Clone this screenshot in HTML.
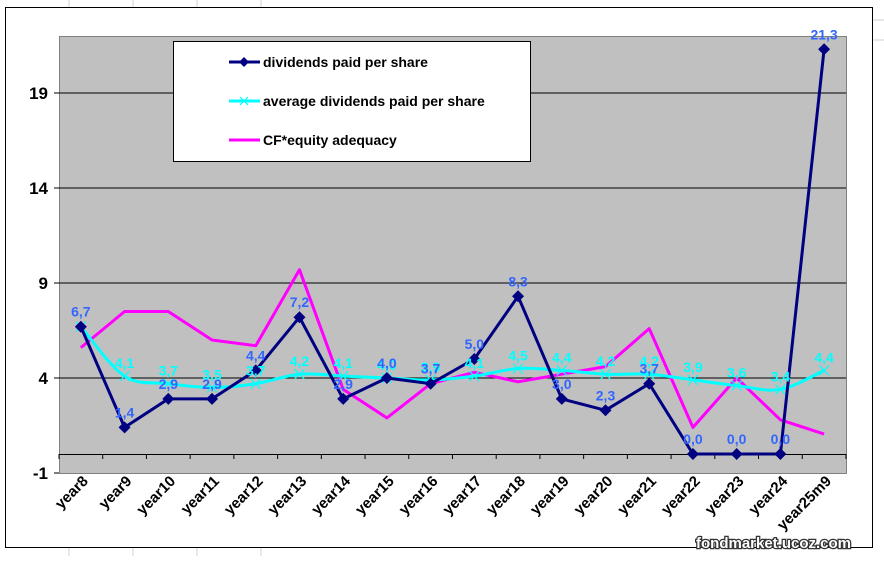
<!DOCTYPE html>
<html><head><meta charset="utf-8"><style>
body{margin:0;background:#fff;width:884px;height:556px;overflow:hidden}
svg text{font-family:"Liberation Sans",Arial,sans-serif;font-weight:bold}
</style></head><body>
<svg id="s" width="884" height="556" xmlns="http://www.w3.org/2000/svg">
<g stroke="#d0d0d0" stroke-width="1">
<line x1="69" y1="0" x2="69" y2="7"/><line x1="133" y1="0" x2="133" y2="7"/><line x1="197" y1="0" x2="197" y2="7"/><line x1="261" y1="0" x2="261" y2="7"/>
<line x1="69" y1="548" x2="69" y2="556"/><line x1="133" y1="548" x2="133" y2="556"/><line x1="197" y1="548" x2="197" y2="556"/><line x1="261" y1="548" x2="261" y2="556"/>
<line x1="873" y1="20" x2="884" y2="20"/><line x1="873" y1="40" x2="884" y2="40"/>
</g>
<rect x="5.5" y="7.5" width="867" height="540" fill="#fff" stroke="#000"/>
<rect x="59.5" y="36.5" width="787" height="437" fill="#c0c0c0" stroke="#808080"/>
<g id="g"></g>
<rect x="173.5" y="41.5" width="357" height="120" fill="#fff" stroke="#000"/>
<line x1="229" y1="62" x2="260" y2="62" stroke="#000080" stroke-width="3"/>
<polygon points="244,57 249,62 244,67 239,62" fill="#000080"/>
<line x1="229" y1="101" x2="260" y2="101" stroke="#00ffff" stroke-width="3"/>
<path d="M240,97 l8,8 M248,97 l-8,8" stroke="#00ffff" stroke-width="1.2"/>
<line x1="229" y1="140" x2="260" y2="140" stroke="#ff00ff" stroke-width="3"/>
<text x="263" y="67" font-size="14">dividends paid per share</text>
<text x="263" y="106" font-size="14">average dividends paid per share</text>
<text x="263" y="145" font-size="14">CF*equity adequacy</text>
<text x="696" y="548" font-size="15" fill="#fff" stroke="#333" stroke-width="2.5" paint-order="stroke">fondmarket.ucoz.com</text>
</svg>
<script>
const g=document.getElementById('g');let h='';
const Y=v=>473-(v+1)*19, X=i=>59+43.72*(i+0.5);
const cats=['year8','year9','year10','year11','year12','year13','year14','year15','year16','year17','year18','year19','year20','year21','year22','year23','year24','year25m9'];
const d=[6.7,1.4,2.9,2.9,4.4,7.2,2.9,4.0,3.7,5.0,8.3,2.9,2.3,3.7,0,0,0,21.3];
const dl=['6,7','1,4','2,9','2,9','4,4','7,2','2,9','4,0','3,7','5,0','8,3','3,0','2,3','3,7','0,0','0,0','0,0','21,3'];
const a=[6.7,4.1,3.7,3.5,3.7,4.2,4.1,4.0,3.9,4.1,4.5,4.4,4.2,4.2,3.9,3.6,3.4,4.4];
const c=[5.6,7.5,7.5,6.0,5.7,9.7,3.4,1.9,3.7,4.3,3.8,4.2,4.6,6.6,1.4,4.0,1.8,1.05];
[19,14,9,4].forEach(v=>{h+=`<line x1="59" y1="${Y(v)}" x2="846" y2="${Y(v)}" stroke="#000"/><line x1="54" y1="${Y(v)}" x2="59" y2="${Y(v)}" stroke="#000"/><text x="48" y="${Y(v)+6}" font-size="17" text-anchor="end">${v}</text>`});
h+=`<line x1="54" y1="473" x2="59" y2="473" stroke="#000"/><text x="48" y="479" font-size="17" text-anchor="end">-1</text>`;
h+=`<line x1="59" y1="454.5" x2="846" y2="454.5" stroke="#000"/>`;
for(let i=0;i<=18;i++){const x=59+43.72*i;h+=`<line x1="${x}" y1="454" x2="${x}" y2="459" stroke="#000"/>`;}
cats.forEach((t,i)=>{const x=X(i)+8,y=482;h+=`<text font-size="15" text-anchor="end" transform="translate(${x},${y}) rotate(-45)">${t}</text>`});
const pl=(arr,col,w)=>`<polyline fill="none" stroke="${col}" stroke-width="${w}" stroke-linejoin="round" points="${arr.map((v,i)=>X(i)+','+Y(v)).join(' ')}"/>`;
h+=pl(c,'#ff00ff',3);
// smooth average line
const P=a.map((v,i)=>[X(i),Y(v)]);let sp=`M${P[0][0]},${P[0][1]}`;
for(let i=0;i<P.length-1;i++){const p0=P[Math.max(0,i-1)],p1=P[i],p2=P[i+1],p3=P[Math.min(P.length-1,i+2)];const t=6;
sp+=` C${p1[0]+(p2[0]-p0[0])/t},${p1[1]+(p2[1]-p0[1])/t} ${p2[0]-(p3[0]-p1[0])/t},${p2[1]-(p3[1]-p1[1])/t} ${p2[0]},${p2[1]}`;}
h+=`<path fill="none" stroke="#00ffff" stroke-width="3" d="${sp}"/>`;
a.forEach((v,i)=>{const x=X(i),y=Y(v);h+=`<path d="M${x-5},${y-5} l10,10 M${x+5},${y-5} l-10,10" stroke="#00ffff" stroke-width="1.2"/>`});
h+=pl(d,'#000080',3);
d.forEach((v,i)=>{const x=X(i),y=Y(v);h+=`<polygon points="${x},${y-6} ${x+6},${y} ${x},${y+6} ${x-6},${y}" fill="#000080"/>`});
a.forEach((v,i)=>{if(i==0)return;h+=`<text x="${X(i)}" y="${Y(v)-8}" font-size="14" fill="#00ffff" text-anchor="middle">${v.toFixed(1).replace('.',',')}</text>`});
d.forEach((v,i)=>{h+=`<text x="${X(i)}" y="${Y(v)-10}" font-size="14" fill="#3366ff" text-anchor="middle">${dl[i]}</text>`});
g.innerHTML=h;
</script>
</body></html>
